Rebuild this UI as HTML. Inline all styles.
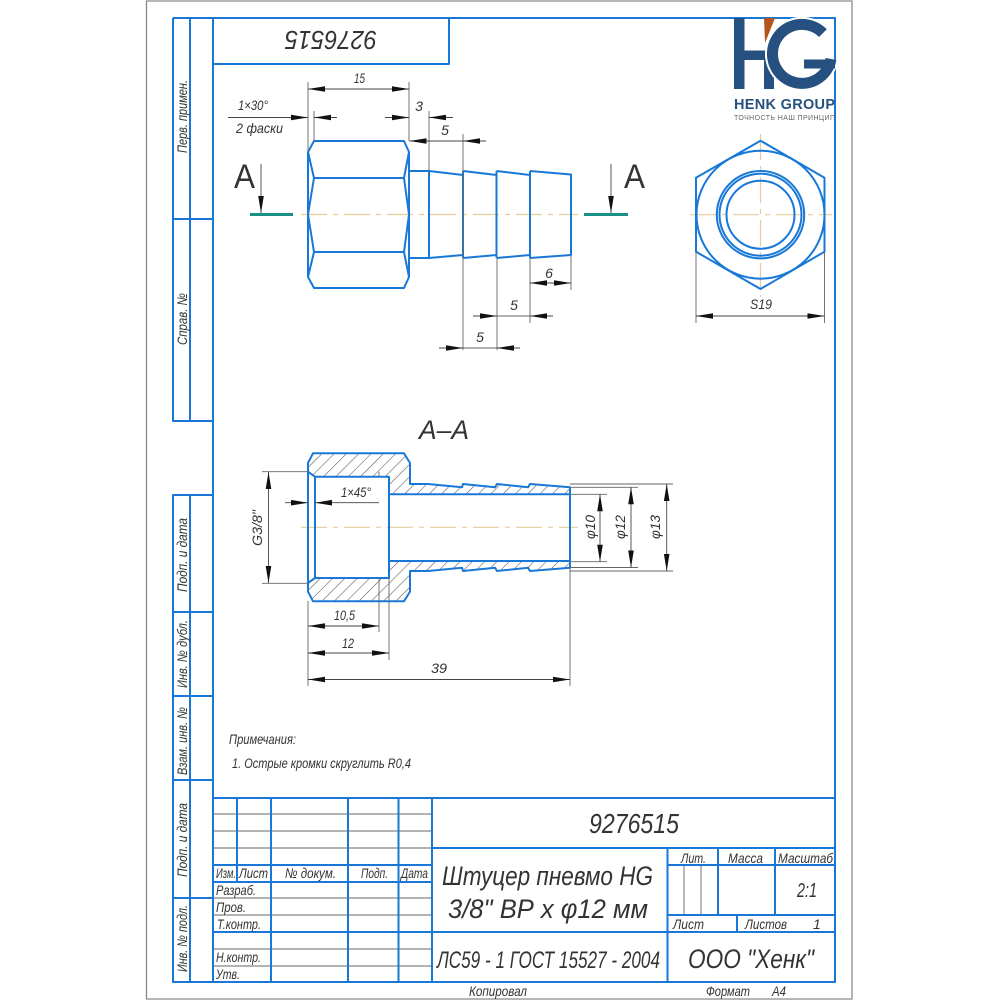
<!DOCTYPE html>
<html><head><meta charset="utf-8"><style>
html,body{margin:0;padding:0;background:#fff}
svg{display:block}
text{font-family:"Liberation Sans",sans-serif;font-style:italic;fill:#333}
.b{fill:none;stroke:#1878d8;stroke-width:2;stroke-linejoin:round}
.g{fill:none;stroke:#666;stroke-width:.9}
.d{fill:none;stroke:#444;stroke-width:.9;marker-end:url(#a);marker-start:url(#a)}
.e{fill:none;stroke:#444;stroke-width:.9;marker-end:url(#a)}
.c{fill:none;stroke:#e6cc9c;stroke-width:1.2;stroke-dasharray:26 6 5 6}
.t{fill:none;stroke:#1a8f85;stroke-width:3}
</style></head><body>
<svg width="1000" height="1000" viewBox="0 0 1000 1000" xmlns="http://www.w3.org/2000/svg">
<defs>
<marker id="a" markerUnits="userSpaceOnUse" markerWidth="18" markerHeight="8" refX="17" refY="4" orient="auto-start-reverse"><path d="M0 1.2L17 4L0 6.800Z" fill="#111"/></marker>
<pattern id="h" patternUnits="userSpaceOnUse" width="8.700" height="8.700" patternTransform="rotate(45)"><line x1="0" y1="0" x2="0" y2="8.700" stroke="#555" stroke-width="1.100"/></pattern>
</defs>
<rect width="1000" height="1000" fill="#fff"/>
<path d="M146.500 1H852V999H146.500Z" fill="none" stroke="#8a8a8a" stroke-width="1.300"/>

<!-- frame -->
<path class="b" d="M173 18H835V982H173V495H213M173 18V421H213M190 18V421M190 495V982M213 18V982M213 64H449V18M173 219H213M173 612H213M173 696H213M173 780H213M173 898H213M213 798H835"/>
<!-- title block -->
<path class="g" d="M213 814H432M213 831H432M213 848H432M213 915H432M213 949H432M213 966H432M213 898H432M684 865V915M701 865V915"/>
<path class="b" d="M237 798V882M271 798V982M348 798V982M398.500 798V982M432 798V982M667.500 848V982M718 848V915M775 848V915M737 915V932M432 848H835M667.500 865H835M667.500 915H835M432 932H835M213 865H432M213 882H432M213 932H432"/>

<!-- strip labels -->
<g font-size="14">
<text transform="translate(187,153) rotate(-90)" textLength="73" lengthAdjust="spacingAndGlyphs">Перв. примен.</text>
<text transform="translate(187,345) rotate(-90)" textLength="52" lengthAdjust="spacingAndGlyphs">Справ. №</text>
<text transform="translate(187,592) rotate(-90)" textLength="74" lengthAdjust="spacingAndGlyphs">Подп. и дата</text>
<text transform="translate(187,688) rotate(-90)" textLength="68" lengthAdjust="spacingAndGlyphs">Инв. № дубл.</text>
<text transform="translate(187,775) rotate(-90)" textLength="68" lengthAdjust="spacingAndGlyphs">Взам. инв. №</text>
<text transform="translate(187,877) rotate(-90)" textLength="74" lengthAdjust="spacingAndGlyphs">Подп. и дата</text>
<text transform="translate(187,972) rotate(-90)" textLength="67" lengthAdjust="spacingAndGlyphs">Инв. № подл.</text>
</g>
<text transform="translate(377,31) rotate(180)" font-size="26" textLength="92" lengthAdjust="spacingAndGlyphs">9276515</text>

<!-- title text -->
<text x="589" y="833" font-size="28" textLength="90" lengthAdjust="spacingAndGlyphs">9276515</text>
<text x="442" y="885" font-size="27" textLength="211" lengthAdjust="spacingAndGlyphs">Штуцер пневмо HG</text>
<text x="448" y="918" font-size="27" textLength="200" lengthAdjust="spacingAndGlyphs">3/8" ВР х φ12 мм</text>
<text x="437" y="968" font-size="24" textLength="223" lengthAdjust="spacingAndGlyphs">ЛС59 - 1 ГОСТ 15527 - 2004</text>
<text x="688" y="968" font-size="27" textLength="126" lengthAdjust="spacingAndGlyphs">ООО "Хенк"</text>
<g font-size="14">
<text x="681" y="863" textLength="25" lengthAdjust="spacingAndGlyphs">Лит.</text>
<text x="728" y="863" textLength="35" lengthAdjust="spacingAndGlyphs">Масса</text>
<text x="778" y="863" textLength="55" lengthAdjust="spacingAndGlyphs">Масштаб</text>
<text x="673" y="929" textLength="31" lengthAdjust="spacingAndGlyphs">Лист</text>
<text x="745" y="929" textLength="42" lengthAdjust="spacingAndGlyphs">Листов</text>
<text x="813" y="929">1</text>
<text x="216" y="878" textLength="20" lengthAdjust="spacingAndGlyphs">Изм.</text>
<text x="239" y="878" textLength="29" lengthAdjust="spacingAndGlyphs">Лист</text>
<text x="285" y="878" textLength="51" lengthAdjust="spacingAndGlyphs">№ докум.</text>
<text x="361" y="878" textLength="27" lengthAdjust="spacingAndGlyphs">Подп.</text>
<text x="401" y="878" textLength="27" lengthAdjust="spacingAndGlyphs">Дата</text>
<text x="216" y="895" textLength="40" lengthAdjust="spacingAndGlyphs">Разраб.</text>
<text x="216" y="912" textLength="30" lengthAdjust="spacingAndGlyphs">Пров.</text>
<text x="217" y="929" textLength="44" lengthAdjust="spacingAndGlyphs">Т.контр.</text>
<text x="216" y="962" textLength="45" lengthAdjust="spacingAndGlyphs">Н.контр.</text>
<text x="216" y="979" textLength="24" lengthAdjust="spacingAndGlyphs">Утв.</text>
<text x="469" y="996" textLength="58" lengthAdjust="spacingAndGlyphs">Копировал</text>
<text x="706" y="996" textLength="44" lengthAdjust="spacingAndGlyphs">Формат</text>
<text x="772" y="996" textLength="14" lengthAdjust="spacingAndGlyphs">А4</text>
<text x="229" y="744" textLength="67" lengthAdjust="spacingAndGlyphs">Примечания:</text>
<text x="232" y="768" textLength="179" lengthAdjust="spacingAndGlyphs">1. Острые кромки скруглить R0,4</text>
</g>
<text x="797" y="897" font-size="20" textLength="20" lengthAdjust="spacingAndGlyphs">2:1</text>

<!-- logo -->
<path fill="#26507f" d="M734 18H744.500V50.500H774V89H764V60H744.500V89H734Z"/>
<path fill="#b4541f" d="M764 18H775L765 43Z"/>
<path d="M822.900 33.100A29.500 29.500 0 1 0 831 59" fill="none" stroke="#fff" stroke-width="15"/>
<path d="M822.900 33.100A29.500 29.500 0 1 0 831 59" fill="none" stroke="#26507f" stroke-width="11"/>
<rect x="804" y="59.500" width="31" height="9" fill="#26507f"/>
<text x="734" y="109" font-size="14.500" font-weight="bold" textLength="101" lengthAdjust="spacing" style="font-style:normal;fill:#26507f">HENK GROUP</text>
<text x="734" y="120" font-size="7" textLength="101" lengthAdjust="spacing" style="font-style:normal;fill:#666">ТОЧНОСТЬ НАШ ПРИНЦИП</text>

<!-- top view -->
<line class="c" x1="301" y1="214.500" x2="578" y2="214.500"/>
<path class="b" d="M314 141H404L409 152V277L404 288H314L308 277V152ZM308 152L314 178L308 214.500L314 252L308 277M409 152L404 178L409 214.500L404 252L409 277M314 178H404M314 252H404"/>
<path class="b" d="M409 171H429V258H409M429 171L463 175M429 258L463 255M463 171V258M463 171L496.500 175M463 258L496.500 255M496.500 171V258M496.500 171L530 175M496.500 258L530 255M530 171V258M530 171L571 174.500V255L530 258"/>
<line class="t" x1="250" y1="214.500" x2="293" y2="214.500"/>
<line class="t" x1="584" y1="214.500" x2="628" y2="214.500"/>
<line class="e" x1="261" y1="164" x2="261" y2="213"/>
<line class="e" x1="611" y1="164" x2="611" y2="213"/>
<text x="234" y="188" font-size="34" style="font-style:normal" textLength="21" lengthAdjust="spacingAndGlyphs">A</text>
<text x="624" y="188" font-size="34" style="font-style:normal" textLength="21" lengthAdjust="spacingAndGlyphs">A</text>

<path class="g" d="M308 82V152M409 82V141M314 111V141M429 111V171M463 134V350M497 258V350M530 258V323M571 255V290"/>
<line class="d" x1="308" y1="89" x2="409" y2="89"/>
<line class="e" x1="228" y1="117.500" x2="308" y2="117.500"/>
<line class="e" x1="337" y1="117.500" x2="314" y2="117.500"/>
<line class="e" x1="385" y1="117.500" x2="409" y2="117.500"/>
<line class="e" x1="453" y1="117.500" x2="429" y2="117.500"/>
<line class="d" x1="409.500" y1="141" x2="463" y2="141" style="marker-end:none"/>
<line class="e" x1="486" y1="141" x2="463" y2="141"/>
<line class="d" x1="530" y1="283" x2="571" y2="283"/>
<line class="e" x1="473" y1="316" x2="497" y2="316"/>
<line class="e" x1="553" y1="316" x2="530" y2="316"/>
<line class="g" x1="497" y1="316" x2="530" y2="316"/>
<line class="e" x1="439" y1="348" x2="463" y2="348"/>
<line class="e" x1="520" y1="348" x2="497" y2="348"/>
<line class="g" x1="463" y1="348" x2="497" y2="348"/>
<g font-size="14">
<text x="354" y="83" textLength="11" lengthAdjust="spacingAndGlyphs">15</text>
<text x="238" y="110" textLength="30" lengthAdjust="spacingAndGlyphs">1×30°</text>
<text x="236" y="133" textLength="47" lengthAdjust="spacingAndGlyphs">2 фаски</text>
<text x="419" y="111" text-anchor="middle">3</text>
<text x="445" y="135" text-anchor="middle">5</text>
<text x="549" y="278" text-anchor="middle">6</text>
<text x="514" y="310" text-anchor="middle">5</text>
<text x="480" y="342" text-anchor="middle">5</text>
</g>

<!-- end view -->
<path class="c" d="M690 214.700H832M760.500 134V297"/>
<path class="b" d="M760.500 140.700L824.500 177.700V251.700L760.500 289L696 251.700V177.700Z"/>
<circle class="b" cx="760.500" cy="214.700" r="64"/>
<circle class="b" cx="760.500" cy="214.700" r="43.700"/>
<circle class="b" cx="760.500" cy="214.700" r="41"/>
<circle class="b" cx="760.500" cy="214.700" r="34"/>
<path class="g" d="M696 252V323M824.500 252V323"/>
<line class="d" x1="696" y1="316" x2="824.500" y2="316"/>
<text x="750" y="309" font-size="14" textLength="22" lengthAdjust="spacingAndGlyphs">S19</text>

<!-- section -->
<text x="419" y="439" font-size="27" textLength="50" lengthAdjust="spacingAndGlyphs">А–А</text>
<path fill="url(#h)" d="M308 471.700V463L313 453.300H404L410 463V484H428L462 487.300L463 484L495 487.300L497 484L528 487.300L530 484L570 487.300V494.300H389V476.700H315Z"/>
<path fill="url(#h)" d="M308 583V591.600L313 601.300H404L410 591.600V571H428L462 567.700L463 571L495 567.700L497 571L528 567.700L530 571L570 567.700V561H389V578H315Z"/>
<line class="c" x1="301" y1="527.300" x2="578" y2="527.300"/>
<path class="b" d="M308 471.700V463L313 453.300H404L410 463V484H428L462 487.300L463 484L495 487.300L497 484L528 487.300L530 484L570 487.300V567.700L530 571L528 567.700L497 571L495 567.700L463 571L462 567.700L428 571H410V591.600L404 601.300H313L308 591.600V583Z"/>
<path class="b" d="M308 463V591.600M308 471.700L315 476.700H389V578H315L308 583M315 476.700V578M389 494.300H570M389 561H570"/>
<path class="g" d="M262 471.700H308M262 583.300H308M379 471.700V476.700M379 578V632M389 578V660M308 601V686M570 567V686M570 494.300H607M570 561.700H607M570 487.300H638M570 567.500H638M570 484H673M570 571H673"/>
<line class="d" x1="268.500" y1="472" x2="268.500" y2="583"/>
<line class="e" x1="285" y1="502.700" x2="308" y2="502.700"/>
<line class="e" x1="379" y1="502.700" x2="315" y2="502.700"/>
<line class="d" x1="308" y1="626" x2="379" y2="626"/>
<line class="d" x1="308" y1="653" x2="389" y2="653"/>
<line class="d" x1="308" y1="679.500" x2="570" y2="679.500"/>
<line class="d" x1="600" y1="494.300" x2="600" y2="561.700"/>
<line class="d" x1="631" y1="487.300" x2="631" y2="567.500"/>
<line class="d" x1="666.700" y1="484" x2="666.700" y2="571"/>
<g font-size="14">
<text transform="translate(262,546) rotate(-90)" textLength="36" lengthAdjust="spacingAndGlyphs">G3/8"</text>
<text x="341" y="497" textLength="30" lengthAdjust="spacingAndGlyphs">1×45°</text>
<text x="334" y="620" textLength="21" lengthAdjust="spacingAndGlyphs">10,5</text>
<text x="342" y="648" textLength="12" lengthAdjust="spacingAndGlyphs">12</text>
<text x="431" y="673" textLength="16" lengthAdjust="spacingAndGlyphs">39</text>
<text transform="translate(595,539) rotate(-90)" textLength="24" lengthAdjust="spacingAndGlyphs">φ10</text>
<text transform="translate(625,539) rotate(-90)" textLength="24" lengthAdjust="spacingAndGlyphs">φ12</text>
<text transform="translate(660,539) rotate(-90)" textLength="24" lengthAdjust="spacingAndGlyphs">φ13</text>
</g>
</svg>
</body></html>
